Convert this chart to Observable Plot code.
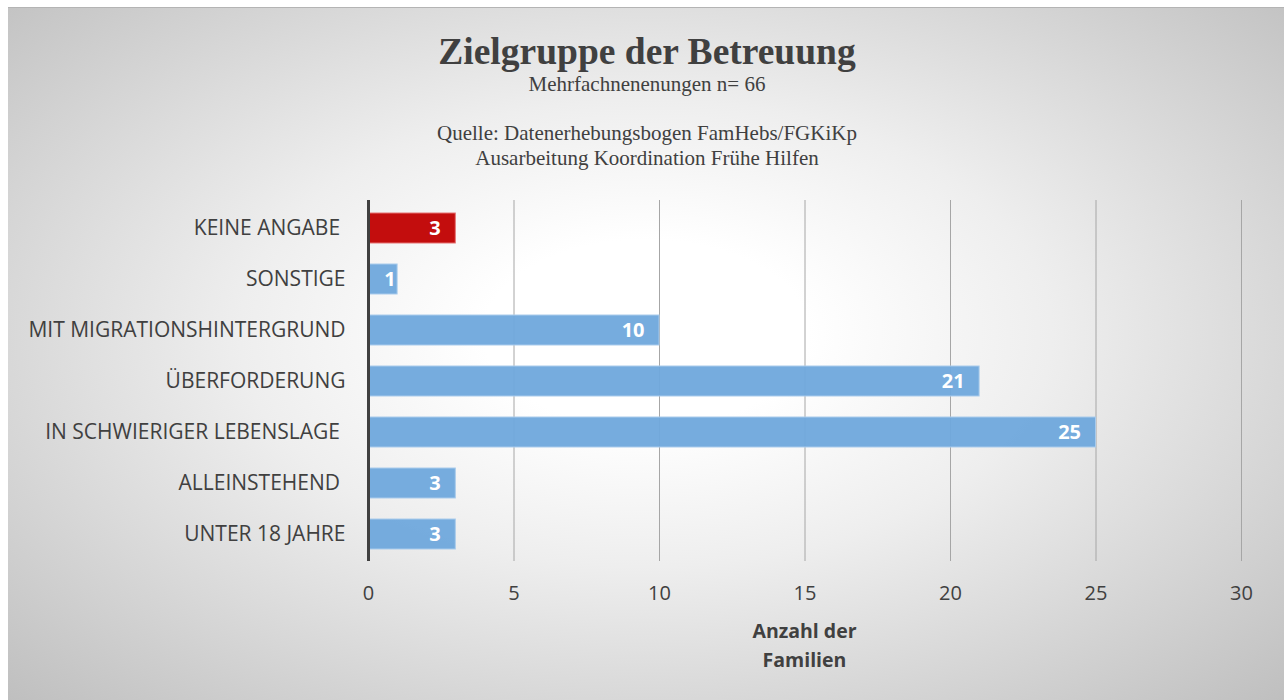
<!DOCTYPE html>
<html>
<head>
<meta charset="utf-8">
<script src="https://cdn.jsdelivr.net/npm/d3@7"></script>
<script src="https://cdn.jsdelivr.net/npm/@observablehq/plot@0.6"></script>
<style>
  html, body { margin: 0; padding: 0; background: #fff; width: 1287px; height: 700px; overflow: hidden; }
  #frame { position: absolute; left: 8px; top: 7px; width: 1276px; height: 693px;
    background: radial-gradient(ellipse farthest-corner at 50% 47%, #ffffff 18%, #eeeeee 45%, #bfbfbf 100%);
    border-top: 1px solid #b4b4b4; box-sizing: border-box; }
  .t { position: absolute; left: 0; width: 1294px; text-align: center; font-family: "Liberation Serif", serif; color: #404040; white-space: nowrap; }
  #title { top: 29px; font-size: 37.5px; font-weight: bold; line-height: 46px; }
  #sub { top: 72px; font-size: 21px; line-height: 24px; }
  #src1 { top: 121px; font-size: 21px; line-height: 24px; }
  #src2 { top: 146px; font-size: 21px; line-height: 24px; }
  #chart { position: absolute; left: 0; top: 195px; }
  .cap { position: absolute; left: 0; width: 1609px; text-align: center; font-family: "Open Sans", sans-serif; font-weight: bold; font-size: 19.5px; color: #404040; line-height: 28px; }
</style>
</head>
<body>
<div id="frame"></div>
<div class="t" id="title">Zielgruppe der Betreuung</div>
<div class="t" id="sub">Mehrfachnenenungen n= 66</div>
<div class="t" id="src1">Quelle: Datenerhebungsbogen FamHebs/FGKiKp</div>
<div class="t" id="src2">Ausarbeitung Koordination Frühe Hilfen</div>
<div id="chart"></div>
<div class="cap" style="top:617px">Anzahl der</div>
<div class="cap" style="top:646px">Familien</div>
<script>
const categories = ["KEINE ANGABE\u00a0", "SONSTIGE", "MIT MIGRATIONSHINTERGRUND", "ÜBERFORDERUNG", "IN SCHWIERIGER LEBENSLAGE\u00a0", "ALLEINSTEHEND\u00a0", "UNTER 18 JAHRE"];
const values = [3, 1, 10, 21, 25, 3, 3];
const fills = ["#c00000", "#6fa8dc", "#6fa8dc", "#6fa8dc", "#6fa8dc", "#6fa8dc", "#6fa8dc"];
const strokes = ["#e57373", "#a9cbec", "#a9cbec", "#a9cbec", "#a9cbec", "#a9cbec", "#a9cbec"];
const xTicks = [0, 5, 10, 15, 20, 25, 30];

const data = categories.map((c, i) => ({cat: c, value: values[i], fill: fills[i], stroke: strokes[i]}));

const labelStyle = {x: "value", y: "cat", text: d => String(d.value), textAnchor: "end", fill: "white", fontWeight: "bold", fontSize: 20};

const chart = Plot.plot({
  width: 1287,
  height: 420,
  marginLeft: 368,
  marginRight: 46,
  marginTop: 5,
  marginBottom: 54,
  style: {background: "transparent", fontFamily: "Open Sans, sans-serif", overflow: "visible"},
  x: {domain: [0, 30], ticks: xTicks, label: null},
  y: {domain: categories, paddingInner: 0.41, paddingOuter: 0.205, insetTop: 2, label: null},
  marks: [
    Plot.ruleX(xTicks.filter(d => d > 0), {stroke: "#a6a6a6", strokeWidth: 1}),
    Plot.barX(data, {x: "value", y: "cat", fill: d => d.fill, stroke: d => d.stroke, strokeWidth: 1, fillOpacity: 0.95}),
    Plot.text(data.filter(d => d.value >= 2), {...labelStyle, dx: -15}),
    Plot.text(data.filter(d => d.value < 2), {...labelStyle, dx: -2}),
    Plot.ruleX([0], {stroke: "#404040", strokeWidth: 3}),
    Plot.axisX({ticks: xTicks, tickSize: 0, tickPadding: 24, fontSize: 20, color: "#404040", label: null}),
    Plot.axisY({tickSize: 0, tickPadding: 23, fontSize: 21, color: "#404040", label: null})
  ]
});
document.getElementById("chart").appendChild(chart);
</script>
</body>
</html>
